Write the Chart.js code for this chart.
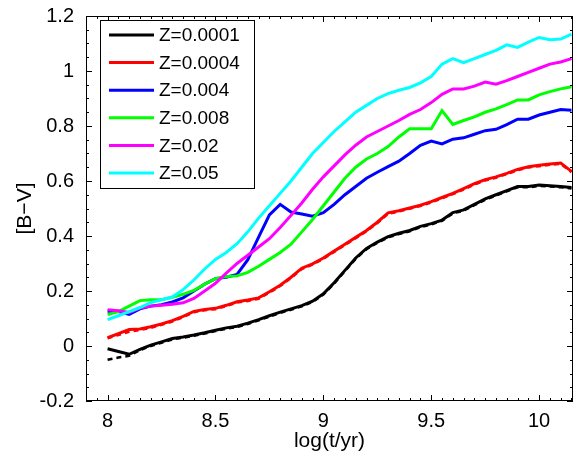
<!DOCTYPE html>
<html>
<head>
<meta charset="utf-8">
<script src="https://cdn.jsdelivr.net/npm/chart.js@4.4.1/dist/chart.umd.min.js"></script>
<style>
  html, body { margin:0; padding:0; background:#fff; }
  #wrap { width:574px; height:456px; }
</style>
</head>
<body>
<div id="wrap"><canvas id="bv" width="574" height="456"></canvas></div>
<script>
// log(t/yr) sampling, shared by every curve
const logT = [8, 8.05, 8.1, 8.15, 8.2, 8.25, 8.3, 8.35, 8.4, 8.45,
              8.5, 8.55, 8.6, 8.65, 8.7, 8.75, 8.8, 8.85, 8.9, 8.95,
              9, 9.05, 9.1, 9.15, 9.2, 9.25, 9.3, 9.35, 9.4, 9.45,
              9.5, 9.55, 9.6, 9.65, 9.7, 9.75, 9.8, 9.85, 9.9, 9.95,
              10, 10.05, 10.1, 10.15];

// [B-V] per metallicity
const bvZ0001 = [-0.01, -0.02, -0.03, -0.012, 0.003, 0.015, 0.027, 0.033, 0.04, 0.048,
                 0.057, 0.066, 0.072, 0.083, 0.096, 0.11, 0.123, 0.135, 0.147, 0.163,
                 0.19, 0.23, 0.275, 0.32, 0.355, 0.378, 0.398, 0.41, 0.42, 0.435,
                 0.445, 0.458, 0.485, 0.495, 0.515, 0.535, 0.55, 0.565, 0.58, 0.58,
                 0.585, 0.583, 0.58, 0.576];
const bvZ0004 = [0.03, 0.045, 0.06, 0.062, 0.07, 0.08, 0.092, 0.108, 0.126, 0.133,
                 0.137, 0.148, 0.161, 0.167, 0.175, 0.197, 0.221, 0.25, 0.283, 0.299,
                 0.32, 0.345, 0.37, 0.395, 0.42, 0.45, 0.484, 0.492, 0.502, 0.512,
                 0.525, 0.54, 0.555, 0.572, 0.59, 0.605, 0.615, 0.628, 0.642, 0.652,
                 0.657, 0.662, 0.665, 0.635];
const bvZ004  = [0.126, 0.125, 0.115, 0.135, 0.145, 0.15, 0.16, 0.175, 0.2, 0.225,
                 0.245, 0.25, 0.26, 0.314, 0.396, 0.477, 0.515, 0.487, 0.48, 0.472,
                 0.485, 0.515, 0.55, 0.58, 0.61, 0.632, 0.652, 0.672, 0.7, 0.73,
                 0.745, 0.735, 0.752, 0.757, 0.77, 0.783, 0.788, 0.805, 0.825, 0.825,
                 0.84, 0.85, 0.86, 0.857];
const bvZ008  = [0.114, 0.125, 0.145, 0.165, 0.168, 0.168, 0.177, 0.188, 0.202, 0.225,
                 0.245, 0.253, 0.255, 0.268, 0.29, 0.315, 0.34, 0.37, 0.415, 0.46,
                 0.51, 0.56, 0.61, 0.65, 0.68, 0.7, 0.725, 0.76, 0.79, 0.79,
                 0.79, 0.856, 0.806, 0.82, 0.833, 0.85, 0.862, 0.878, 0.895, 0.895,
                 0.913, 0.925, 0.935, 0.943];
const bvZ02   = [0.132, 0.128, 0.122, 0.138, 0.145, 0.148, 0.152, 0.157, 0.173, 0.2,
                 0.228, 0.265, 0.3, 0.33, 0.36, 0.39, 0.431, 0.475, 0.52, 0.57,
                 0.615, 0.655, 0.695, 0.73, 0.76, 0.78, 0.8, 0.82, 0.842, 0.86,
                 0.885, 0.915, 0.935, 0.935, 0.945, 0.96, 0.952, 0.965, 0.98, 0.995,
                 1.01, 1.025, 1.033, 1.045];
const bvZ05   = [0.096, 0.11, 0.125, 0.14, 0.158, 0.168, 0.178, 0.205, 0.24, 0.28,
                 0.315, 0.34, 0.372, 0.415, 0.465, 0.51, 0.555, 0.6, 0.65, 0.7,
                 0.74, 0.78, 0.815, 0.85, 0.875, 0.9, 0.918, 0.93, 0.94, 0.957,
                 0.98, 1.025, 1.045, 1.03, 1.045, 1.06, 1.075, 1.095, 1.086, 1.105,
                 1.122, 1.114, 1.116, 1.134];

// dashed companions (only really visible at the young end)
const bvZ0001b = [-0.05, -0.042, -0.036, -0.015, 0.0, 0.012, 0.024, 0.03, 0.037, 0.045,
                  0.054, 0.063, 0.069, 0.08, 0.093, 0.107, 0.12, 0.132, 0.144, 0.16,
                  0.187, 0.227, 0.272, 0.317, 0.352, 0.375, 0.395, 0.407, 0.417, 0.432,
                  0.442, 0.455, 0.482, 0.492, 0.512, 0.532, 0.547, 0.562, 0.577, 0.577,
                  0.582, 0.58, 0.577, 0.573];
const bvZ0004b = [0.028, 0.04, 0.052, 0.058, 0.066, 0.077, 0.089, 0.105, 0.123, 0.13,
                  0.134, 0.145, 0.158, 0.164, 0.172, 0.194, 0.218, 0.247, 0.28, 0.296,
                  0.317, 0.342, 0.367, 0.392, 0.417, 0.447, 0.481, 0.489, 0.499, 0.509,
                  0.522, 0.537, 0.552, 0.569, 0.587, 0.602, 0.612, 0.625, 0.639, 0.649,
                  0.654, 0.659, 0.662, 0.632];

const seriesNames  = ['Z=0.0001', 'Z=0.0004', 'Z=0.004', 'Z=0.008', 'Z=0.02', 'Z=0.05'];
const seriesColors = ['#000000', '#ff0000', '#0000ff', '#00ff00', '#ff00ff', '#00ffff'];
const seriesValues = [bvZ0001, bvZ0004, bvZ004, bvZ008, bvZ02, bvZ05];

const xTicks = [8, 8.5, 9, 9.5, 10];
const yTicks = [-0.2, 0, 0.2, 0.4, 0.6, 0.8, 1, 1.2];

const FONT = 'Liberation Sans, Arial, sans-serif';
const pts = vals => logT.map((t, i) => ({ x: t, y: vals[i] }));

const datasets = [
  { label: '', data: pts(bvZ0001b), borderColor: '#000000', borderWidth: 2.5, borderDash: [5, 4], order: 20, dashed: true },
  { label: '', data: pts(bvZ0004b), borderColor: '#ff0000', borderWidth: 2.5, borderDash: [5, 4], order: 19, dashed: true },
  ...seriesValues.map((v, i) => ({
    label: seriesNames[i], data: pts(v), borderColor: seriesColors[i],
    borderWidth: 3, order: 10 - i,
  })),
];

// box, inward ticks (major + minor) on all four sides
const frameTicks = {
  id: 'frameTicks',
  afterDraw(chart) {
    const { ctx, chartArea: a, scales: { x, y } } = chart;
    ctx.save();
    ctx.strokeStyle = '#000';
    ctx.lineWidth = 1;
    ctx.strokeRect(a.left + 0.5, a.top + 0.5, a.right - a.left - 1, a.bottom - a.top - 1);
    ctx.beginPath();
    for (let k = -2; k <= 43; k++) {
      const v = 8 + k * 0.05;
      if (v < x.min - 1e-9 || v > x.max + 1e-9) continue;
      const px = Math.round(x.getPixelForValue(v)) + 0.5;
      const len = (k % 10 === 0) ? 6 : 3;
      ctx.moveTo(px, a.bottom); ctx.lineTo(px, a.bottom - len);
      ctx.moveTo(px, a.top);    ctx.lineTo(px, a.top + len);
    }
    for (let k = -4; k <= 24; k++) {
      const v = k * 0.05;
      const py = Math.round(y.getPixelForValue(v)) + 0.5;
      const len = (k % 4 === 0) ? 6 : 3;
      ctx.moveTo(a.left, py);  ctx.lineTo(a.left + len, py);
      ctx.moveTo(a.right, py); ctx.lineTo(a.right - len, py);
    }
    ctx.stroke();
    ctx.restore();
  }
};

// legend box in the upper-left corner of the axes
const boxLegend = {
  id: 'boxLegend',
  afterDraw(chart) {
    const { ctx } = chart;
    const items = chart.data.datasets.filter(d => !d.dashed);
    const bx = 100, by = 20, bw = 154, bh = 168, row = 27.6;
    ctx.save();
    ctx.fillStyle = '#fff';
    ctx.fillRect(bx, by, bw, bh);
    ctx.strokeStyle = '#000';
    ctx.lineWidth = 1;
    ctx.strokeRect(bx + 0.5, by + 0.5, bw, bh);
    ctx.font = '19px ' + FONT;
    ctx.textBaseline = 'middle';
    items.forEach((d, i) => {
      const cy = by + 15 + i * row;
      ctx.strokeStyle = d.borderColor;
      ctx.lineWidth = 3;
      ctx.beginPath();
      ctx.moveTo(bx + 9, cy); ctx.lineTo(bx + 54, cy);
      ctx.stroke();
      ctx.fillStyle = '#000';
      ctx.fillText(d.label, bx + 59, cy + 1);
    });
    ctx.restore();
  }
};

const plainNum = v => String(v);

new Chart(document.getElementById('bv'), {
  type: 'line',
  data: { datasets },
  options: {
    responsive: false,
    animation: false,
    devicePixelRatio: 1,
    layout: { padding: { top: 10, right: 1, left: 0, bottom: 0 } },
    elements: { point: { radius: 0 }, line: { tension: 0 } },
    plugins: { legend: { display: false }, tooltip: { enabled: false } },
    scales: {
      x: {
        type: 'linear', min: 7.9, max: 10.157,
        afterBuildTicks: s => { s.ticks = xTicks.map(v => ({ value: v })); },
        afterFit: s => { s.height = 55; },
        grid: { display: false }, border: { display: false },
        ticks: { color: '#000', font: { family: FONT, size: 20 }, padding: 0, maxRotation: 0, callback: plainNum },
        title: { display: true, text: 'log(t/yr)', color: '#000', font: { family: FONT, size: 21 }, padding: { top: 0, bottom: 2 } },
      },
      y: {
        type: 'linear', min: -0.2, max: 1.2,
        afterBuildTicks: s => { s.ticks = yTicks.map(v => ({ value: v })); },
        afterFit: s => { s.width = 86; },
        grid: { display: false }, border: { display: false },
        ticks: { color: '#000', font: { family: FONT, size: 20 }, padding: 4, callback: plainNum },
        title: { display: true, text: '[B\u2212V]', color: '#000', font: { family: FONT, size: 21 }, padding: { top: 13, bottom: 0 } },
      },
    },
  },
  plugins: [frameTicks, boxLegend],
});
</script>
</body>
</html>
